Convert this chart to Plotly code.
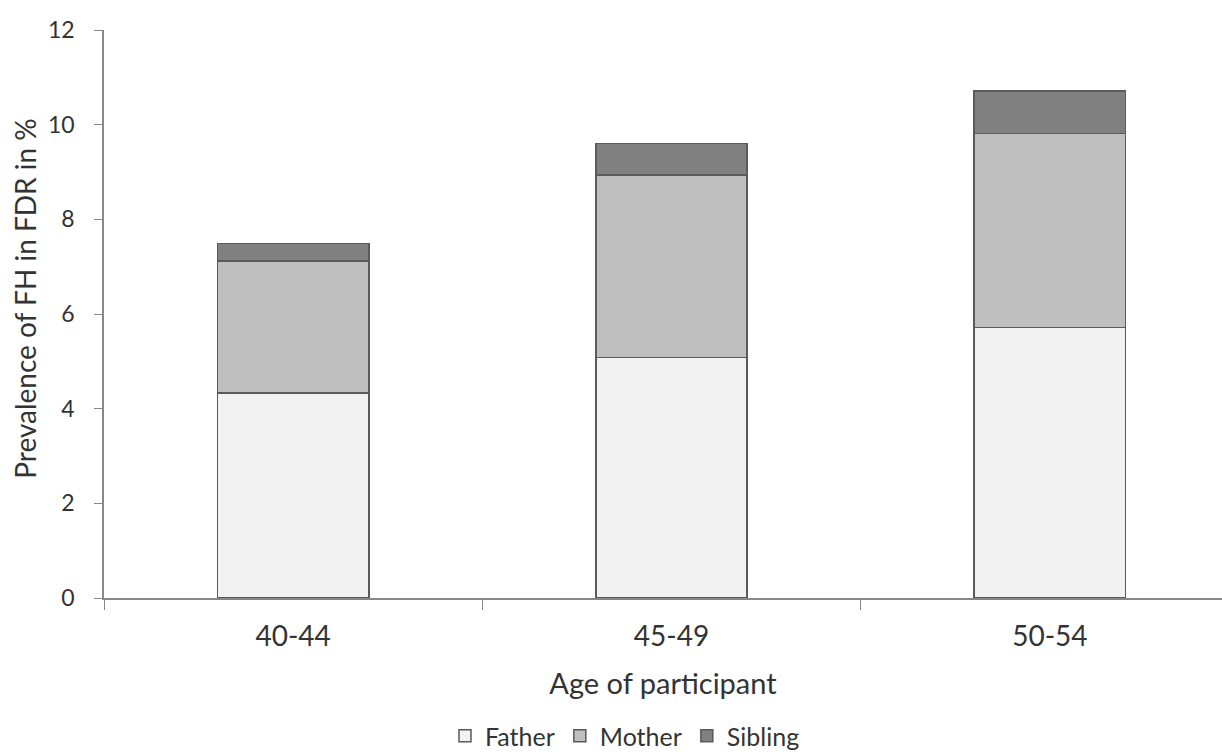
import plotly.graph_objects as go

categories = ["40-44", "45-49", "50-54"]
father = [4.33, 5.08, 5.71]
mother = [2.79, 3.86, 4.10]
sibling = [0.37, 0.66, 0.90]
y_ticks = [0, 2, 4, 6, 8, 10, 12]

FONT = "Lato, 'Open Sans', sans-serif"
fig = go.Figure()
for name, vals, col in [("Father", father, "#f2f2f2"),
                        ("Mother", mother, "#bfbfbf"),
                        ("Sibling", sibling, "#808080")]:
    fig.add_trace(go.Bar(x=categories, y=vals, name=name, width=0.4,
                         marker=dict(color=col, line=dict(color="#5a5a5a", width=1.5))))

fig.update_layout(
    barmode="stack",
    width=1222, height=755,
    margin=dict(l=104, r=0, t=30, b=157, autoexpand=False),
    paper_bgcolor="white", plot_bgcolor="white",
    font=dict(family=FONT, size=24, color="#333333"),
    legend=dict(orientation="h", x=0.466, xanchor="center", y=-0.243, yanchor="middle",
                font=dict(size=25), itemwidth=30, traceorder="normal"),
    xaxis=dict(range=[-0.5, 2.455], tickson="boundaries", ticks="outside", ticklen=10,
               tickcolor="#888888", showline=True, linecolor="#888888", linewidth=1.5,
               showgrid=False, automargin=False, ticklabelstandoff=13,
               title=dict(text="Age of participant", standoff=22, font=dict(size=29)),
               tickfont=dict(size=28)),
    yaxis=dict(range=[0, 12], tickvals=y_ticks, ticks="outside", ticklen=8,
               tickcolor="#888888", showline=True, linecolor="#888888", linewidth=1.5,
               showgrid=False, zeroline=False, automargin=False, ticklabelstandoff=15,
               tickfont=dict(size=23)),
    annotations=[dict(text="Prevalence of FH in FDR in %", textangle=-90,
                      xref="paper", yref="paper", x=(25 - 104) / 1118, y=(598.5 - 299) / 568.5,
                      xanchor="center", yanchor="middle", showarrow=False,
                      font=dict(size=28, color="#333333"))],
)
fig.write_html("out.html", config={"displayModeBar": False},
               post_script="document.body.style.margin='0';document.body.style.padding='0';")
